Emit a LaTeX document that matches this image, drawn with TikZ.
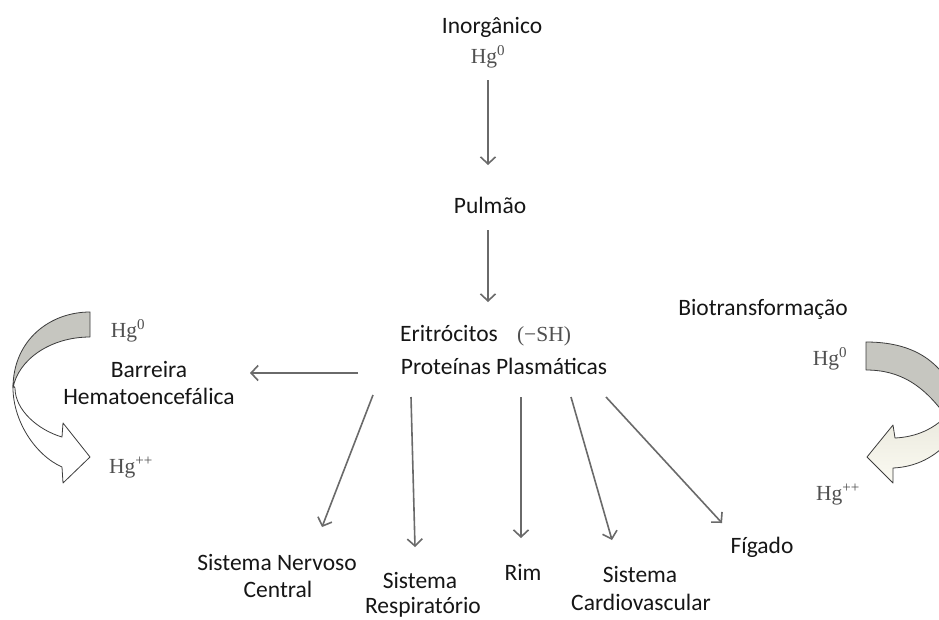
\documentclass[tikz,border=0pt]{standalone}
\usepackage{fontspec}
\setmainfont{Carlito}
\newfontfamily\hgfont{Liberation Serif}
\usetikzlibrary{arrows.meta}
\definecolor{txtc}{HTML}{161616}
\definecolor{hgc}{HTML}{505050}
\definecolor{arrc}{HTML}{6A6A6A}
\definecolor{bandgray}{HTML}{C6C6C0}
\definecolor{bandedge}{HTML}{3C3C3C}
\definecolor{creamA}{HTML}{E9E8DC}
\definecolor{creamB}{HTML}{FBFAF2}
\begin{document}
\begin{tikzpicture}[x=1pt,y=-1pt,
  txt/.style={anchor=base,inner sep=0pt,text=txtc,font=\fontsize{23.5}{28}\selectfont},
  hg/.style={anchor=base,inner sep=0pt,text=hgc,font=\hgfont\fontsize{21.5}{25}\selectfont},
  arr/.style={draw=arrc,line width=1.6pt,-{Straight Barb[length=7pt,width=15pt,line width=1.6pt]}},
  band/.style={draw=bandedge,line width=0.8pt,line join=round}]
\useasboundingbox (0,0) rectangle (939,619);
\clip (0,0) rectangle (939,619);
\fill[white] (0,0) rectangle (939,619);

% left curved arrow
\path[band,fill=white] (13,385) .. controls (12,420) and (35,455) .. (62,467)
  -- (63,483) -- (90,457) -- (63,423) -- (62,437)
  .. controls (38,430) and (15,410) .. (15,388) -- cycle;
\path[band,fill=bandgray] (90,312) .. controls (50,312) and (13,340) .. (13,388)
  .. controls (18,360) and (50,337) .. (90,337) -- cycle;

% right curved arrow
\path[band,top color=creamA,bottom color=creamB] (952,410) .. controls (935,430) and (915,437) .. (895,438)
  -- (893,425) -- (867,457) -- (893,483) -- (893,468)
  .. controls (915,467) and (935,458) .. (952,438) -- cycle;
\path[band,fill=bandgray] (866,342) .. controls (905,342) and (935,355) .. (952,388)
  -- (950,422) .. controls (925,385) and (900,370) .. (866,370) -- cycle;

% texts
\node[txt] (inorg) at (492,33) {Inorgânico};
\node[hg] (hg0) at (488,63) {Hg\textsuperscript{0}};
\node[txt] (pulmao) at (490,213) {Pulmão};
\node[txt] (eri) at (449,341) {Eritrócitos};
\node[hg] (sh) at (544,341) {(−SH)};
\node[txt] (prot) at (504,374) {Proteínas Plasmáticas};
\node[txt] (bio) at (763,315) {Biotransformação};
\node[hg] (lhg0) at (128,337) {Hg\textsuperscript{0}};
\node[txt] (barreira) at (149,377) {Barreira};
\node[txt] (hemato) at (149,404) {Hematoencefálica};
\node[hg] (lhgpp) at (131,473) {Hg\textsuperscript{++}};
\node[hg] (rhg0) at (830,365) {Hg\textsuperscript{0}};
\node[hg] (rhgpp) at (838,500) {Hg\textsuperscript{++}};
\node[txt] (snc1) at (277,570) {Sistema Nervoso};
\node[txt] (snc2) at (278,597) {Central};
\node[txt] (resp1) at (420,588) {Sistema};
\node[txt] (resp2) at (423,613) {Respiratório};
\node[txt] (rim) at (523,580) {Rim};
\node[txt] (card1) at (640,582) {Sistema};
\node[txt] (card2) at (641,610) {Cardiovascular};
\node[txt] (figado) at (762,553) {Fígado};

% connectors
\draw[arr] ([shift={(0,17)}]hg0.base) -- ([shift={(-2,-48)}]pulmao.base);
\draw[arr] ([shift={(-2,17)}]pulmao.base) -- ([shift={(39,-39)}]eri.base);
\draw[arr] ([shift={(-146,-1)}]prot.base) -- ([shift={(101,-4)}]barreira.base);
\draw[arr] ([shift={(-131,21)}]prot.base) -- ([shift={(45,-43)}]snc1.base);
\draw[arr] ([shift={(-93,23)}]prot.base) -- ([shift={(-5,-41)}]resp1.base);
\draw[arr] ([shift={(17,23)}]prot.base) -- ([shift={(-2,-42)}]rim.base);
\draw[arr] ([shift={(67,23)}]prot.base) -- ([shift={(-28,-42)}]card1.base);
\draw[arr] ([shift={(102,23)}]prot.base) -- ([shift={(-40,-30)}]figado.base);
\end{tikzpicture}
\end{document}
